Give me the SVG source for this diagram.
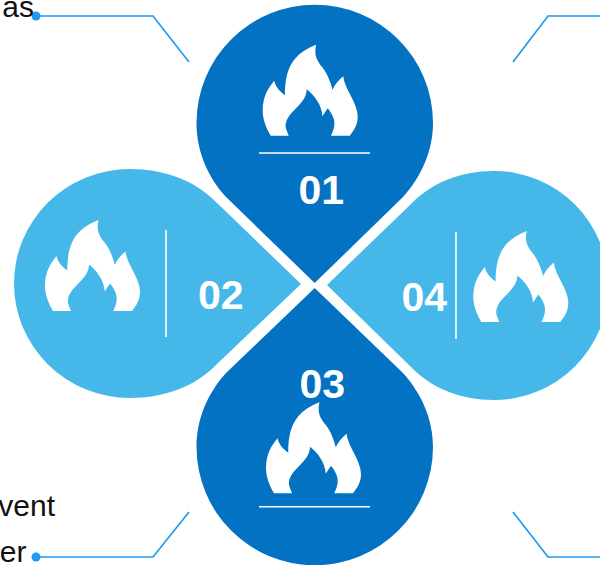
<svg xmlns="http://www.w3.org/2000/svg" xmlns:xlink="http://www.w3.org/1999/xlink" width="600" height="565" viewBox="0 0 600 565">
<style>
.dark{fill:#0472C3}
.light{fill:#45B7E8}
.rule{stroke:#fff;stroke-width:1.6;fill:none}
.num{font-family:"Liberation Sans",Arial,sans-serif;font-weight:700;font-size:41px;fill:#fff}
.txt{font-family:"Liberation Sans",Arial,sans-serif;font-size:30px;fill:#111;text-anchor:end}
.conn{stroke:#1E9BF0;stroke-width:1.7;fill:none}
.dot{fill:#1E9BF0}
</style>
<defs>
<path id="flame" fill="#fff" d="M8 91 C2 81 0 72 0 66 C0 51 6 43 11.500 36 C12.500 41 16 46 22.300 50.500 C22.300 24 30 9 53.500 0 C51 10 54 16 60 23 C66 31 68.500 40 69.800 45 C72 40 76 35 80.500 31.500 C82 45 95 58 95 72 C95 80 91 86 87 91 L68.300 91 C71 85 72.800 80 71 74 C69.500 70 67.500 66 65 63.500 L59.700 71.500 C59 60 52 51 44 44.500 C44 53 38 59 30 67 C24 73 22 79 23.300 84 L26 91 Z"/>
</defs>
<g id="connectors">
<path class="conn" d="M36 16H153L189 62"/>
<path class="conn" d="M513 62L548 16H600"/>
<path class="conn" d="M36 557H153L189 512"/>
<path class="conn" d="M513 512L548 557H600"/>
<circle class="dot" cx="36" cy="16" r="4.500"/>
<circle class="dot" cx="36" cy="557" r="4.500"/>
</g>
<g id="node-01">
<path class="dark" d="M314.700 283 L403 197 C422 176 433 150 433 123 A118.200 118.200 0 0 0 196.500 123 C196.500 150 207 176 226 197 Z"/>
<use xlink:href="#flame" href="#flame" x="262.700" y="44.700"/>
<path class="rule" d="M259 153H370"/>
<text class="num" x="298.500" y="204">01</text>
</g>
<g id="node-02">
<path class="light" d="M301 284 L217 364 C196 386 165 398 130 398 A116 114.500 0 0 1 130 169 C165 169 196 181 217 203 Z"/>
<use xlink:href="#flame" href="#flame" x="45" y="220"/>
<path class="rule" d="M166 230V337"/>
<text class="num" x="198" y="309">02</text>
</g>
<g id="node-03">
<path class="dark" d="M314.700 288 L403 373 C422 394 433 420 433 447 A118.200 118.200 0 0 1 196.500 447 C196.500 420 207 394 226 373 Z"/>
<use xlink:href="#flame" href="#flame" x="266" y="402.300"/>
<path class="rule" d="M259 506.700H370"/>
<text class="num" x="299.500" y="398">03</text>
</g>
<g id="node-04">
<path class="light" d="M327 285 L410 205 C431 183 460 171 494 171 A114.500 114.500 0 0 1 494 400 C460 400 431 388 410 366 Z"/>
<use xlink:href="#flame" href="#flame" x="473.300" y="231"/>
<path class="rule" d="M456 232V339"/>
<text class="num" x="401.500" y="311">04</text>
</g>
<g id="labels">
<text class="txt" x="34" y="17">as</text>
<text class="txt" x="55" y="516">vent</text>
<text class="txt" x="26.500" y="562">er</text>
</g>
</svg>
